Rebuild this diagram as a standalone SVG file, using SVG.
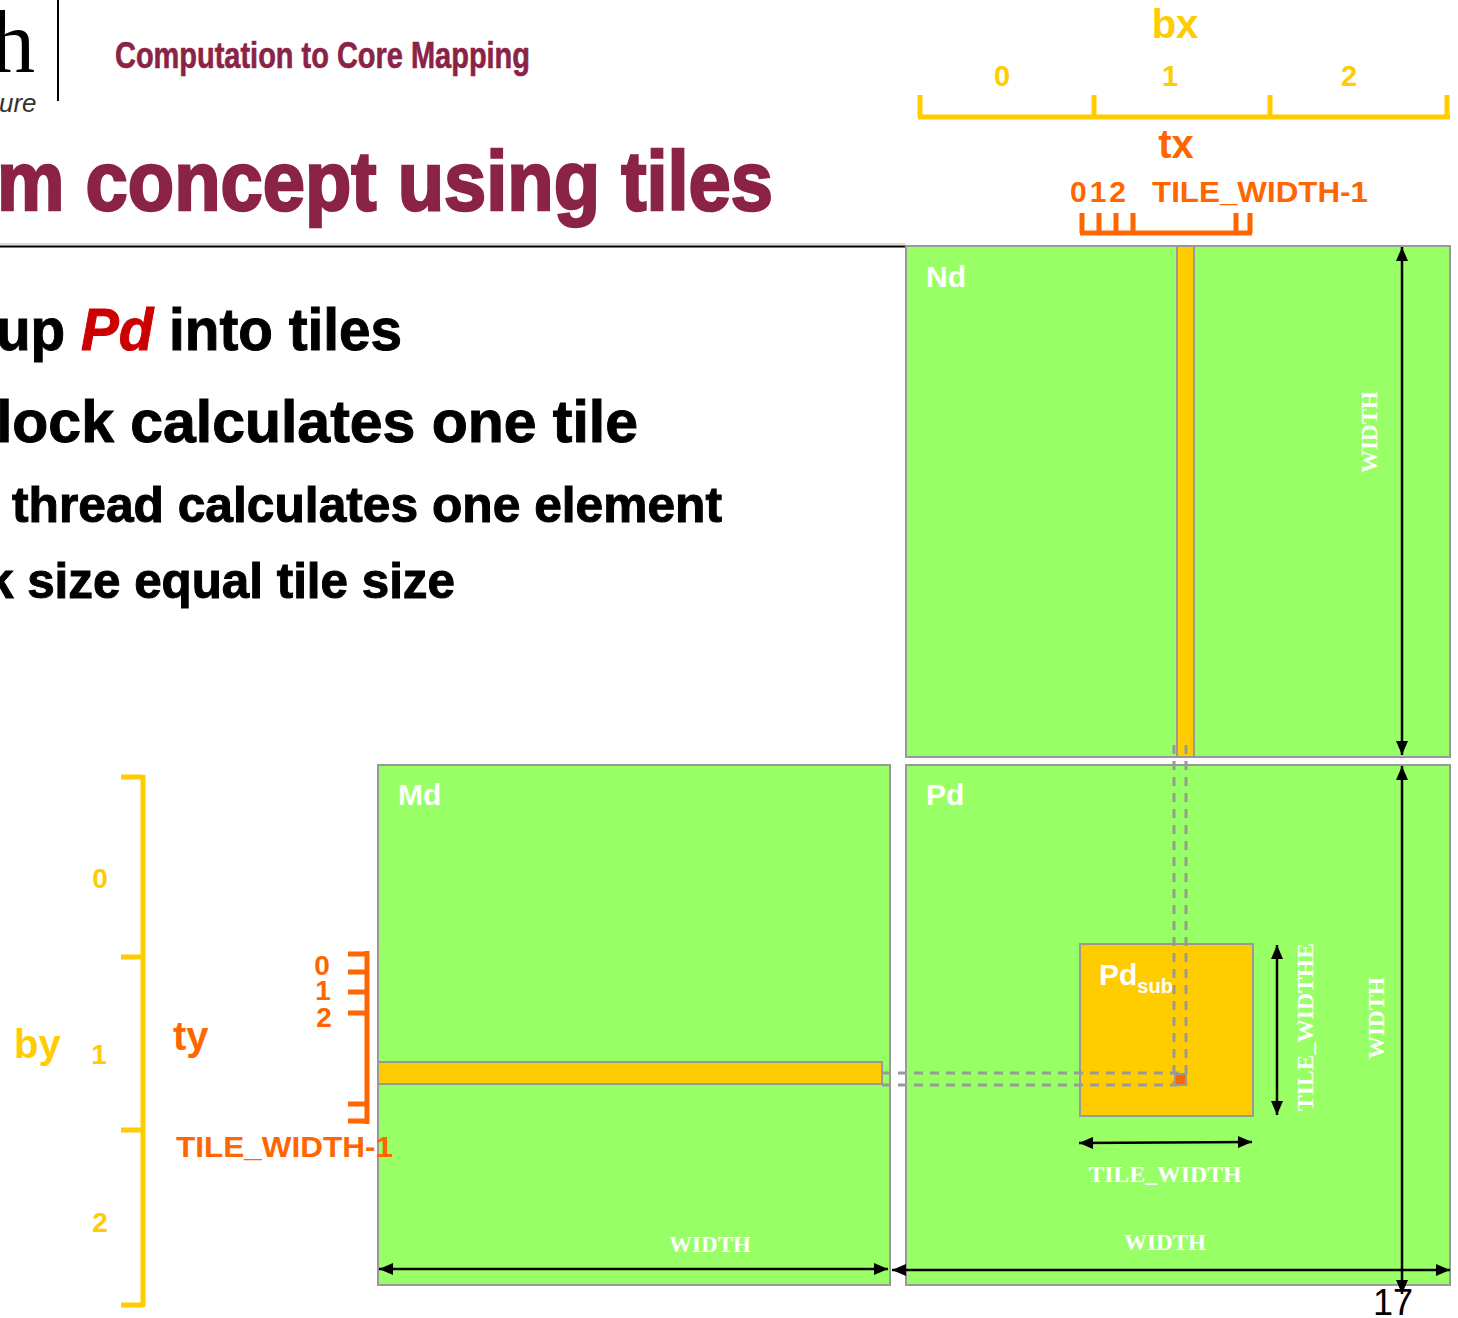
<svg xmlns="http://www.w3.org/2000/svg" width="1458" height="1318" viewBox="0 0 1458 1318">
<defs>
<marker id="ah" viewBox="0 0 14 12" refX="14" refY="6" markerWidth="14" markerHeight="12" markerUnits="userSpaceOnUse" orient="auto-start-reverse">
<path d="M0,0 L14,6 L0,12 z" fill="#000"/>
</marker>
</defs>
<style>
.sans{font-family:"Liberation Sans",Arial,sans-serif;font-weight:bold}
.serif{font-family:"Liberation Serif","Times New Roman",serif;font-weight:bold}
.mat{fill:#99FF66;stroke:#999;stroke-width:2}
.strip{fill:#FFCC00;stroke:#999;stroke-width:2}
.lbl{fill:#fff;font-size:30px}
.dim{fill:#fff;font-size:23px}
.arr{stroke:#000;stroke-width:2.5;fill:none;marker-start:url(#ah);marker-end:url(#ah)}
.dash{stroke:#999;stroke-width:3;stroke-dasharray:9 7;fill:none}
.yb{stroke:#FFCC00;stroke-width:5;fill:none}
.ob{stroke:#FF6600;stroke-width:5;fill:none}
.y{fill:#FFCC00}
.o{fill:#FF6600}
.blk{fill:#000;stroke:#000;stroke-width:1}
</style>

<g id="header">
<text x="-9" y="72" font-family="Liberation Serif,serif" font-size="88" fill="#000">h</text>
<text x="-1" y="112" font-family="Liberation Sans,sans-serif" font-style="italic" font-size="26" fill="#333">ure</text>
<line x1="58" y1="0" x2="58" y2="101" stroke="#000" stroke-width="2"/>
<text class="sans" x="115" y="68" font-size="36" fill="#8B2346" stroke="#8B2346" stroke-width="0.6" textLength="415" lengthAdjust="spacingAndGlyphs">Computation to Core Mapping</text>
<text class="sans" x="-3" y="210" font-size="84" fill="#8B2346" stroke="#8B2346" stroke-width="2.5" textLength="776" lengthAdjust="spacingAndGlyphs">m concept using tiles</text>
<line x1="0" y1="244" x2="906" y2="244" stroke="#bbb" stroke-width="1"/>
<line x1="0" y1="246.5" x2="906" y2="246.5" stroke="#000" stroke-width="2"/>
</g>

<g id="bullets">
<text class="sans blk" x="-4" y="350" font-size="60" textLength="406" lengthAdjust="spacingAndGlyphs">up <tspan fill="#CC0000" stroke="#CC0000" font-style="italic">Pd</tspan> into tiles</text>
<text class="sans blk" x="-4" y="442" font-size="60" textLength="642" lengthAdjust="spacingAndGlyphs">lock calculates one tile</text>
<text class="sans blk" x="12" y="522" font-size="50" textLength="710" lengthAdjust="spacingAndGlyphs">thread calculates one element</text>
<text class="sans blk" x="-14" y="598" font-size="50" textLength="469" lengthAdjust="spacingAndGlyphs">k size equal tile size</text>
</g>

<g id="bx-axis">
<text class="sans y" x="1175" y="38" font-size="40" text-anchor="middle">bx</text>
<text class="sans y" x="1002" y="86" font-size="29" text-anchor="middle">0</text>
<text class="sans y" x="1170" y="86" font-size="29" text-anchor="middle">1</text>
<text class="sans y" x="1349" y="86" font-size="29" text-anchor="middle">2</text>
<path class="yb" d="M918,117 H1450 M920,95 V117 M1094,95 V117 M1270,95 V117 M1447,95 V117"/>
</g>

<g id="tx-axis">
<text class="sans o" x="1176" y="158" font-size="40" text-anchor="middle">tx</text>
<text class="sans o" x="1070" y="202" font-size="30" letter-spacing="3">012</text>
<text class="sans o" x="1152" y="202" font-size="30" textLength="216" lengthAdjust="spacingAndGlyphs">TILE_WIDTH-1</text>
<path class="ob" d="M1080,233 H1252 M1082,213 V233 M1099,213 V233 M1116,213 V233 M1133,213 V233 M1236,213 V233 M1250,213 V233"/>
</g>

<g id="Nd">
<rect class="mat" x="906" y="246" width="544" height="511"/>
<rect class="strip" x="1177" y="246" width="17" height="511"/>
<text class="sans lbl" x="926" y="287">Nd</text>
<text class="serif dim" transform="translate(1377,432) rotate(-90)" text-anchor="middle">WIDTH</text>
</g>

<g id="Md">
<rect class="mat" x="378" y="765" width="512" height="520"/>
<rect class="strip" x="378" y="1062" width="504" height="22"/>
<text class="sans lbl" x="398" y="805">Md</text>
<text class="serif dim" x="710" y="1252" text-anchor="middle">WIDTH</text>
</g>

<g id="Pd">
<rect class="mat" x="906" y="765" width="544" height="520"/>
<text class="sans lbl" x="926" y="805">Pd</text>
<text class="serif dim" transform="translate(1384,1018) rotate(-90)" text-anchor="middle">WIDTH</text>
<text class="serif dim" x="1165" y="1250" text-anchor="middle">WIDTH</text>
</g>

<g id="Pdsub">
<rect class="strip" x="1080" y="944" width="173" height="172"/>
<text class="sans lbl" x="1099" y="985" font-size="31">Pd<tspan font-size="20" dy="8">sub</tspan></text>
<text class="serif dim" transform="translate(1313,1027) rotate(-90)" text-anchor="middle" textLength="168" lengthAdjust="spacingAndGlyphs">TILE_WIDTHE</text>
<text class="serif dim" x="1165" y="1182" text-anchor="middle" textLength="153" lengthAdjust="spacingAndGlyphs">TILE_WIDTH</text>
</g>

<g id="by-axis">
<text class="sans y" x="14" y="1058" font-size="40">by</text>
<text class="sans y" x="100" y="888" font-size="28" text-anchor="middle">0</text>
<text class="sans y" x="99" y="1064" font-size="28" text-anchor="middle">1</text>
<text class="sans y" x="100" y="1232" font-size="28" text-anchor="middle">2</text>
<path class="yb" d="M143,775 V1307 M121,777 H143 M121,957 H143 M121,1130 H143 M121,1305 H143"/>
</g>

<g id="ty-axis">
<text class="sans o" x="173" y="1050" font-size="40">ty</text>
<text class="sans o" x="322" y="975" font-size="28" text-anchor="middle">0</text>
<text class="sans o" x="323" y="1000" font-size="28" text-anchor="middle">1</text>
<text class="sans o" x="324" y="1027" font-size="28" text-anchor="middle">2</text>
<text class="sans o" x="176" y="1157" font-size="30" textLength="217" lengthAdjust="spacingAndGlyphs">TILE_WIDTH-1</text>
<path class="ob" d="M367,951 V1124 M348,954 H367 M348,972 H367 M348,992 H367 M348,1013 H367 M348,1104 H367 M348,1121 H367"/>
</g>

<g id="connectors">
<path class="dash" d="M1174,745 V1085 M1186,745 V1085"/>
<path class="dash" d="M882,1073 H1186 M882,1085 H1186"/>
<rect x="1175" y="1074" width="11" height="11" fill="#FF6600" stroke="#999" stroke-width="2"/>
<line class="arr" x1="1402" y1="247" x2="1402" y2="755"/>
<line class="arr" x1="1402" y1="766" x2="1402" y2="1294"/>
<line class="arr" x1="379" y1="1269" x2="888" y2="1269"/>
<line class="arr" x1="892" y1="1270" x2="1450" y2="1270"/>
<line class="arr" x1="1277" y1="945" x2="1277" y2="1115"/>
<line class="arr" x1="1079" y1="1143" x2="1252" y2="1142"/>
</g>

<text x="1373" y="1315" font-family="Liberation Sans,Arial,sans-serif" font-size="36" fill="#000">17</text>
</svg>
